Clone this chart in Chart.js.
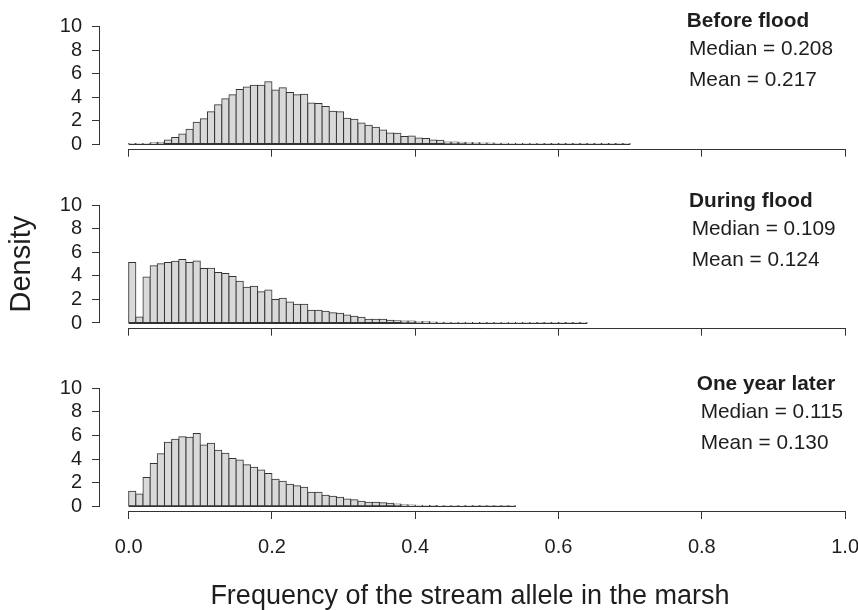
<!DOCTYPE html>
<html>
<head>
<meta charset="utf-8">
<script src="https://cdn.jsdelivr.net/npm/chart.js@4.4.0/dist/chart.umd.min.js"></script>
<style>
  html, body { margin: 0; padding: 0; background: #fff; }
  #wrap { position: relative; width: 858px; height: 610px; }
  #wrap canvas { position: absolute; left: 0; top: 0; }
</style>
</head>
<body>
<div id="wrap">
  <canvas id="before" width="858" height="610"></canvas>
  <canvas id="during" width="858" height="610"></canvas>
  <canvas id="later" width="858" height="610"></canvas>
</div>
<script>
// histogram bins of width 0.01 starting at 0, density values
const binWidth = 0.01;
const xTicks = [0, 0.2, 0.4, 0.6, 0.8, 1.0];
const yTicks = [0, 2, 4, 6, 8, 10];

const beforeFlood = [
  0.02, 0.03, 0.05, 0.10, 0.15, 0.35, 0.55, 0.85, 1.25, 1.85,
  2.15, 2.75, 3.35, 3.85, 4.20, 4.65, 4.85, 5.00, 5.00, 5.30,
  4.60, 4.80, 4.40, 4.20, 4.25, 3.50, 3.45, 3.20, 2.80, 2.75,
  2.20, 2.10, 1.80, 1.60, 1.42, 1.19, 0.94, 0.91, 0.63, 0.68,
  0.51, 0.48, 0.34, 0.31, 0.17, 0.17, 0.16, 0.11, 0.11, 0.09,
  0.08, 0.07, 0.06, 0.05, 0.04, 0.04, 0.03, 0.03, 0.02, 0.02,
  0.02, 0.01, 0.01, 0.01, 0.01, 0.01, 0.01, 0.01, 0.01, 0.01
];
const duringFlood = [
  5.13, 0.50, 3.90, 4.87, 5.04, 5.15, 5.24, 5.40, 5.13, 5.27,
  4.62, 4.65, 4.30, 4.20, 3.94, 3.54, 3.03, 3.12, 2.66, 2.80,
  2.00, 2.10, 1.78, 1.59, 1.59, 1.08, 1.08, 0.99, 0.88, 0.82,
  0.68, 0.57, 0.48, 0.31, 0.31, 0.31, 0.23, 0.20, 0.17, 0.17,
  0.11, 0.10, 0.08, 0.07, 0.06, 0.05, 0.05, 0.04, 0.04, 0.03,
  0.03, 0.03, 0.02, 0.02, 0.02, 0.02, 0.02, 0.01, 0.01, 0.01,
  0.01, 0.01, 0.01, 0.01
];
const oneYearLater = [
  1.27, 1.05, 2.43, 3.62, 4.46, 5.42, 5.68, 5.90, 5.85, 6.16,
  5.20, 5.34, 4.75, 4.49, 4.04, 3.93, 3.53, 3.30, 3.08, 2.77,
  2.29, 2.12, 1.86, 1.75, 1.61, 1.19, 1.19, 0.93, 0.85, 0.76,
  0.62, 0.56, 0.42, 0.34, 0.34, 0.30, 0.25, 0.20, 0.14, 0.10,
  0.08, 0.07, 0.06, 0.05, 0.05, 0.04, 0.03, 0.03, 0.02, 0.02,
  0.02, 0.01, 0.01, 0.01
];

const panelTitles = ["Before flood", "During flood", "One year later"];
const medians = ["0.208", "0.109", "0.115"];
const means = ["0.217", "0.124", "0.130"];

const FONT = "'Liberation Sans', Arial, sans-serif";
const INK = "#1e1e1e";
const AXIS = "#333";

Chart.defaults.font.family = FONT;
Chart.defaults.color = INK;

// R-style axes: line only spans first..last tick, plus a line under all bins
const rAxes = {
  id: "rAxes",
  afterDatasetsDraw(chart) {
    const { ctx, scales: { x, y } } = chart;
    const nBins = chart.data.datasets[0].data.length;
    ctx.save();
    ctx.strokeStyle = AXIS;
    ctx.lineWidth = 1;
    ctx.beginPath();
    const yb = Math.round(y.getPixelForValue(0)) + 0.5;
    ctx.moveTo(x.getPixelForValue(0), yb);
    ctx.lineTo(x.getPixelForValue(nBins * binWidth), yb);
    const ya = Math.round(x.top) + 0.5;
    ctx.moveTo(x.getPixelForValue(xTicks[0]), ya);
    ctx.lineTo(x.getPixelForValue(xTicks[xTicks.length - 1]), ya);
    const xa = Math.round(y.right) - 0.5;
    ctx.moveTo(xa, y.getPixelForValue(yTicks[0]));
    ctx.lineTo(xa, y.getPixelForValue(yTicks[yTicks.length - 1]));
    ctx.stroke();
    ctx.restore();
  }
};

function notes(items) {
  return {
    id: "notes",
    afterDraw(chart) {
      const ctx = chart.ctx;
      ctx.save();
      ctx.fillStyle = INK;
      ctx.textBaseline = "alphabetic";
      items.forEach(t => {
        ctx.font = t.font;
        ctx.textAlign = t.align || "left";
        ctx.fillText(t.text, t.x, t.y);
      });
      ctx.restore();
    }
  };
}

function panel(id, values, p) {
  const bins = values.map((v, i) => ({ x: (i + 0.5) * binWidth, y: v }));
  const items = [
    { text: p.title, x: p.tx, y: p.ty, font: "bold 20.8px " + FONT },
    { text: "Median = " + p.median, x: p.nx, y: p.ty + 28, font: "20.8px " + FONT },
    { text: "Mean = " + p.mean, x: p.nx, y: p.ty + 59, font: "20.8px " + FONT }
  ].concat(p.extra || []);

  new Chart(document.getElementById(id), {
    type: "bar",
    data: {
      datasets: [{
        data: bins,
        backgroundColor: "#d9d9d9",
        borderColor: AXIS,
        borderWidth: 1,
        borderSkipped: false,
        inflateAmount: 0.5,
        barPercentage: 1,
        categoryPercentage: 1
      }]
    },
    options: {
      responsive: false,
      animation: false,
      events: [],
      layout: { padding: { top: p.top, left: 0, right: 0, bottom: 0 } },
      plugins: { legend: { display: false }, tooltip: { enabled: false } },
      scales: {
        x: {
          type: "linear",
          min: -0.04,
          max: 1.018,
          offset: false,
          border: { display: false },
          grid: { offset: false, drawOnChartArea: false, tickLength: 8, color: AXIS },
          ticks: {
            display: p.labels,
            autoSkip: false,
            maxRotation: 0,
            padding: 16,
            font: { size: 20 },
            callback: v => v.toFixed(1)
          },
          afterBuildTicks: s => { s.ticks = xTicks.map(v => ({ value: v })); },
          afterFit: s => { s.height = 610 - p.bottom; s.paddingLeft = 0; s.paddingRight = 0; }
        },
        y: {
          min: -0.4,
          max: 10.4,
          border: { display: false },
          grid: { drawOnChartArea: false, tickLength: 8, color: AXIS },
          ticks: { autoSkip: false, padding: 10, font: { size: 20 }, callback: v => String(v) },
          title: {
            display: !!p.yTitle,
            text: p.yTitle || "",
            font: { size: 29 },
            padding: { top: 5, bottom: 0 }
          },
          afterBuildTicks: s => { s.ticks = yTicks.map(v => ({ value: v })); },
          afterFit: s => { s.width = 100; s.paddingTop = 0; s.paddingBottom = 0; }
        }
      }
    },
    plugins: [rAxes, notes(items)]
  });
}

panel("before", beforeFlood, {
  top: 22, bottom: 148.7, labels: false,
  title: panelTitles[0], median: medians[0], mean: means[0],
  tx: 686.7, nx: 689, ty: 27.3
});
panel("during", duringFlood, {
  top: 200.6, bottom: 327.7, labels: false, yTitle: "Density",
  title: panelTitles[1], median: medians[1], mean: means[1],
  tx: 689, nx: 691.7, ty: 206.7
});
panel("later", oneYearLater, {
  top: 383.6, bottom: 511, labels: true,
  title: panelTitles[2], median: medians[2], mean: means[2],
  tx: 696.7, nx: 700.7, ty: 389.5,
  extra: [{
    text: "Frequency of the stream allele in the marsh",
    x: 470, y: 604, align: "center", font: "27px " + FONT
  }]
});
</script>
</body>
</html>
